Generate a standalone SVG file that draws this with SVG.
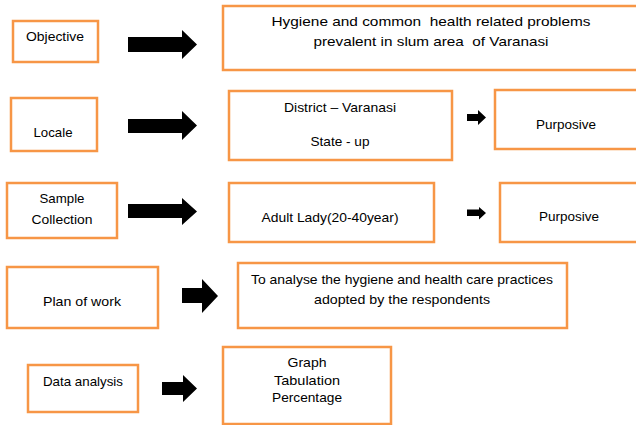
<svg xmlns="http://www.w3.org/2000/svg" width="636" height="425" viewBox="0 0 636 425">
<style>
.box{fill:#fff;stroke:#F79646;stroke-width:2.5}
text{font-family:"Liberation Sans",Arial,sans-serif;font-size:13px;fill:#000;text-anchor:middle;white-space:pre}
.arr{fill:#000}
</style>
<rect width="636" height="425" fill="#fff"/>
<g id="connectors">
<polygon class="arr" points="128,37 182,37 182,30 197,44.5 182,59 182,52 128,52"/>
<polygon class="arr" points="128,119 182,119 182,111 197,125.5 182,140 182,133 128,133"/>
<polygon class="arr" points="467,114 478,114 478,110 486,117.5 478,125 478,121 467,121"/>
<polygon class="arr" points="128,204 182,204 182,198 197,211.5 182,225 182,218 128,218"/>
<polygon class="arr" points="467,209.5 479,209.5 479,207 486,213 479,219.5 479,216 467,216"/>
<polygon class="arr" points="182,288 202,288 202,279 218,296 202,313 202,303 182,303"/>
<polygon class="arr" points="162,382 183,382 183,375 197,388.5 183,402 183,395 162,395"/>
</g>
<g id="objective"><rect class="box" x="13" y="21" width="85" height="41"/><text x="55" y="41" textLength="58" lengthAdjust="spacingAndGlyphs">Objective</text></g>
<g id="hygiene"><rect class="box" x="223" y="6" width="420" height="64"/><text x="431" y="26" textLength="319" lengthAdjust="spacingAndGlyphs" xml:space="preserve">Hygiene and common  health related problems</text><text x="431" y="46" textLength="235" lengthAdjust="spacingAndGlyphs" xml:space="preserve">prevalent in slum area  of Varanasi</text></g>
<g id="locale"><rect class="box" x="11" y="98" width="86" height="53"/><text x="53" y="137" textLength="39" lengthAdjust="spacingAndGlyphs">Locale</text></g>
<g id="district"><rect class="box" x="229" y="91" width="223" height="69"/><text x="340" y="112" textLength="112" lengthAdjust="spacingAndGlyphs">District – Varanasi</text><text x="340" y="146" textLength="59" lengthAdjust="spacingAndGlyphs">State - up</text></g>
<g id="purposive1"><rect class="box" x="495" y="90" width="150" height="59"/><text x="566" y="129" textLength="60" lengthAdjust="spacingAndGlyphs">Purposive</text></g>
<g id="sample"><rect class="box" x="7" y="183" width="110" height="55"/><text x="62" y="203" textLength="45" lengthAdjust="spacingAndGlyphs">Sample</text><text x="62" y="224" textLength="61" lengthAdjust="spacingAndGlyphs">Collection</text></g>
<g id="adult"><rect class="box" x="229" y="183" width="205" height="59"/><text x="330" y="222" textLength="137" lengthAdjust="spacingAndGlyphs">Adult Lady(20-40year)</text></g>
<g id="purposive2"><rect class="box" x="500" y="183" width="145" height="59"/><text x="569" y="221" textLength="60" lengthAdjust="spacingAndGlyphs">Purposive</text></g>
<g id="plan"><rect class="box" x="7" y="267" width="151" height="61"/><text x="82" y="306" textLength="78" lengthAdjust="spacingAndGlyphs">Plan of work</text></g>
<g id="analyse"><rect class="box" x="238" y="263" width="329" height="65"/><text x="402" y="284" textLength="302" lengthAdjust="spacingAndGlyphs">To analyse the hygiene and health care practices</text><text x="402" y="304" textLength="176" lengthAdjust="spacingAndGlyphs">adopted by the respondents</text></g>
<g id="data"><rect class="box" x="28" y="365" width="110" height="47"/><text x="83" y="386" textLength="80" lengthAdjust="spacingAndGlyphs">Data analysis</text></g>
<g id="graph"><rect class="box" x="223" y="347" width="168" height="77"/><text x="307" y="367" textLength="39" lengthAdjust="spacingAndGlyphs">Graph</text><text x="307" y="385" textLength="66" lengthAdjust="spacingAndGlyphs">Tabulation</text><text x="307" y="402" textLength="70" lengthAdjust="spacingAndGlyphs">Percentage</text></g>
</svg>
